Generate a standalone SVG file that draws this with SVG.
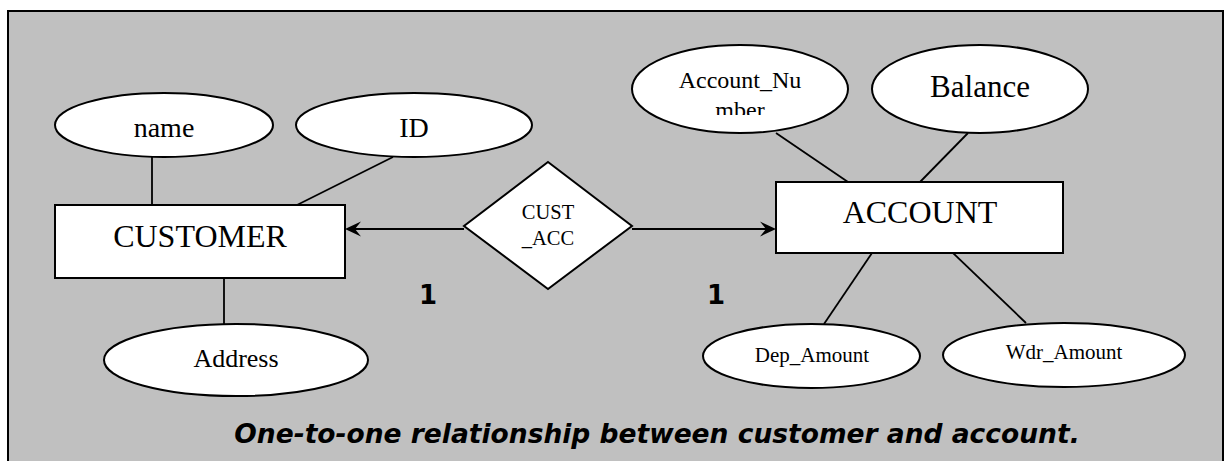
<svg xmlns="http://www.w3.org/2000/svg" width="1232" height="461" viewBox="0 0 1232 461">
<style>
.attr{fill:#fff;stroke:#000;stroke-width:2}
.ent{fill:#fff;stroke:#000;stroke-width:2}
.t{font-family:"Liberation Serif","Times New Roman",serif;fill:#000;text-anchor:middle}
.ln{stroke:#000;stroke-width:1.8;fill:none}
.arr{stroke:#000;stroke-width:2.2;fill:none}
.card{font-family:"DejaVu Sans",Verdana,sans-serif;font-weight:bold;font-size:26px;fill:#000}
</style>
<defs>
<clipPath id="clipAN"><rect x="640" y="55" width="200" height="60"/></clipPath>
</defs>
<rect x="0" y="0" width="1232" height="461" fill="#fff"/>
<rect id="frame" x="8" y="11" width="1215" height="460" fill="#C0C0C0" stroke="#000" stroke-width="2"/>

<g id="connectors">
<line class="ln" x1="152" y1="157" x2="152" y2="205"/>
<line class="ln" x1="393" y1="157" x2="297" y2="205"/>
<line class="ln" x1="224" y1="278" x2="224" y2="324"/>
<line class="ln" x1="776" y1="133" x2="848" y2="182"/>
<line class="ln" x1="968" y1="133" x2="920" y2="182"/>
<line class="ln" x1="872" y1="253" x2="824" y2="324"/>
<line class="ln" x1="953" y1="253" x2="1026" y2="323"/>
<line class="arr" x1="464" y1="229" x2="350" y2="229"/>
<polygon points="345,229 361,221.5 355,229 361,236.5" fill="#000"/>
<line class="arr" x1="632" y1="229" x2="770" y2="229"/>
<polygon points="776,229 760,221.5 766,229 760,236.5" fill="#000"/>
</g>

<g id="customer">
<rect class="ent" x="55" y="205" width="290" height="73"/>
<text class="t" x="200" y="247" font-size="32">CUSTOMER</text>
</g>
<g id="name">
<ellipse class="attr" cx="164" cy="125" rx="109" ry="32"/>
<text class="t" x="164" y="137" font-size="28">name</text>
</g>
<g id="id">
<ellipse class="attr" cx="414" cy="125" rx="118" ry="32"/>
<text class="t" x="414" y="137" font-size="28">ID</text>
</g>
<g id="address">
<ellipse class="attr" cx="236" cy="360" rx="132" ry="36"/>
<text class="t" x="236" y="367" font-size="26">Address</text>
</g>

<g id="cust_acc">
<polygon class="ent" points="548,162 632,226 548,289 464,226"/>
<text class="t" x="548" y="219" font-size="20.5">CUST</text>
<text class="t" x="548" y="245" font-size="20.5">_ACC</text>
</g>

<g id="account">
<rect class="ent" x="776" y="182" width="287" height="71"/>
<text class="t" x="920" y="223" font-size="32">ACCOUNT</text>
</g>
<g id="account_number">
<ellipse class="attr" cx="740" cy="89" rx="108" ry="44"/>
<g clip-path="url(#clipAN)">
<text class="t" x="740" y="88" font-size="24">Account_Nu</text>
<text class="t" x="740" y="118" font-size="24">mber</text>
</g>
</g>
<g id="balance">
<ellipse class="attr" cx="980" cy="89" rx="108" ry="44"/>
<text class="t" x="980" y="97" font-size="31">Balance</text>
</g>
<g id="dep_amount">
<ellipse class="attr" cx="811.5" cy="356" rx="108.5" ry="32"/>
<text class="t" x="812" y="362" font-size="21">Dep_Amount</text>
</g>
<g id="wdr_amount">
<ellipse class="attr" cx="1064" cy="355" rx="121" ry="32"/>
<text class="t" x="1064" y="359" font-size="21">Wdr_Amount</text>
</g>

<g id="labels">
<text class="card" x="419" y="304" font-size="26">1</text>
<text class="card" x="707" y="304" font-size="26">1</text>
<text x="657" y="443" font-family="'DejaVu Sans',Verdana,sans-serif" font-weight="bold" font-style="italic" font-size="26.5" text-anchor="middle" fill="#000">One-to-one relationship between customer and account.</text>
</g>
</svg>
